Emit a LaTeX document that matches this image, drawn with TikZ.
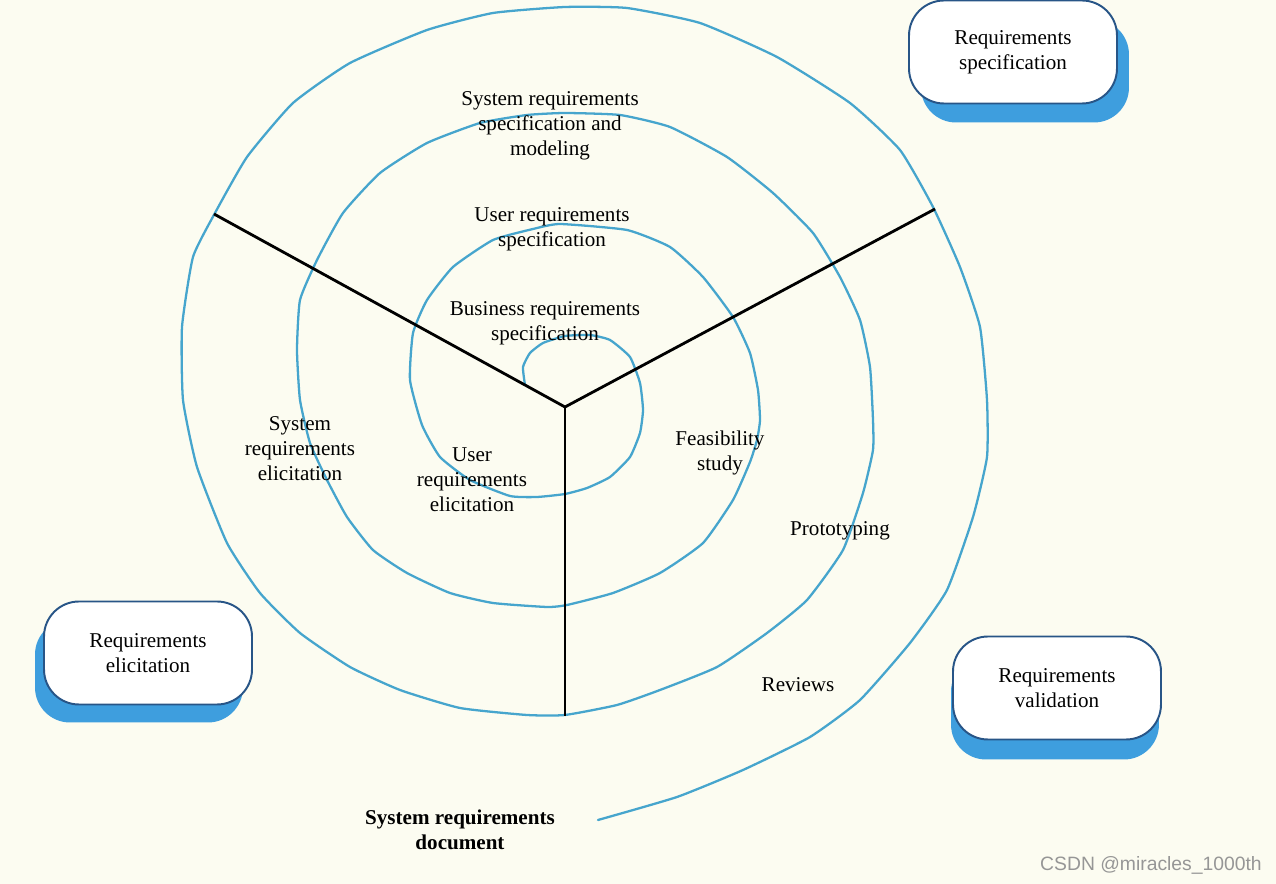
\documentclass[tikz,border=0pt]{standalone}
\usepackage{fontspec}
\setmainfont{Liberation Serif}
\newfontfamily\wmfont{Liberation Sans}
\usepackage{tikz}
\usetikzlibrary{shadows,positioning}
\definecolor{bgcream}{RGB}{252,252,241}
\definecolor{spiralblue}{RGB}{70,165,205}
\definecolor{boxedge}{RGB}{40,85,135}
\definecolor{shadowblue}{RGB}{62,158,222}
\definecolor{wmgray}{RGB}{150,150,150}

\begin{document}
\begin{tikzpicture}[x=0.02cm, y=-0.02cm,
    phasebox/.style={draw=boxedge, line width=1.1pt, fill=white, rounded corners=0.7cm,
      minimum width=4.16cm, minimum height=2.06cm, align=center,
      font=\fontsize{12}{14.2}\selectfont},
    lbl/.style={align=center, inner sep=0pt, font=\fontsize{12}{14.2}\selectfont}]
        % Background
        \fill[bgcream] (0,0) rectangle (1276,884);
        \useasboundingbox (0,0) rectangle (1276,884);

        % Spiral
        \draw[spiralblue, line width=1.3pt, line cap=round] plot[smooth, tension=0.3] coordinates {
          (525,385) (523,367) (530,353) (543,343) (565,336) (590,335) (610,340) (630,357)
          (640,383) (643,410) (640,433) (630,457) (610,477) (587,488) (565,494) (537,497)
          (510,496) (470,480) (440,457) (422,425) (410,380) (413,333) (427,300) (453,267)
          (493,240) (533,229) (560,224) (627,230) (670,247) (703,277) (733,317) (750,353)
          (758,390) (760,420) (757,440) (750,462) (733,500) (703,543) (660,573) (613,593)
          (567,605) (547,607) (493,603) (450,593) (407,573) (373,550) (347,517) (327,480)
          (310,443) (300,400) (297,350) (300,300) (317,260) (343,213) (380,173) (427,143)
          (480,123) (527,115) (565,113) (620,115) (670,127) (727,157) (773,193) (813,233)
          (840,277) (860,320) (870,367) (873,420) (873,450) (863,493) (843,550) (807,600)
          (767,633) (717,667) (660,690) (617,705) (565,715) (527,715) (460,708) (400,690)
          (350,667) (300,633) (260,593) (227,543) (197,467) (183,400) (182,327) (193,257)
          (215,213) (247,157) (293,103) (350,63) (427,30) (493,13) (565,7) (627,8)
          (700,23) (777,57) (850,103) (900,150) (933,207) (960,267) (980,327) (987,400)
          (987,457) (973,517) (947,590) (910,643) (860,700) (810,737) (743,770) (677,797)
          (598,820)};

        % Sector lines
        \coordinate (hub) at (565,407);
        \coordinate (leftEnd) at (214,214);
        \coordinate (rightEnd) at (935,209);
        \coordinate (downEnd) at (565,716);
        \draw[line width=1.6pt] (hub) -- (leftEnd);
        \draw[line width=1.6pt] (hub) -- (rightEnd);
        \draw[line width=0.8pt] (hub) -- (downEnd);

        % Phase boxes
        \node[phasebox, drop shadow={shadow xshift=0.24cm, shadow yshift=-0.38cm, opacity=1, fill=shadowblue}]
          (specbox) at (1013,52) {Requirements\\specification};
        \node[phasebox, drop shadow={shadow xshift=-0.18cm, shadow yshift=-0.36cm, opacity=1, fill=shadowblue}]
          (elicbox) at (148,653) {Requirements\\elicitation};
        \node[phasebox, drop shadow={shadow xshift=-0.04cm, shadow yshift=-0.4cm, opacity=1, fill=shadowblue}]
          (valbox) at (1057,688) {Requirements\\validation};

        % Activity labels
        \node[lbl] (sysspec) at (550,126) {System requirements\\specification and\\modeling};
        \node[lbl] (userspec) at (552,229) {User requirements\\specification};
        \node[lbl] (busspec) at (545,323) {Business requirements\\specification};
        \node[lbl] (syselic) at (300,449) {System\\requirements\\elicitation};
        \node[lbl] (userelic) at (472,480) {User\\requirements\\elicitation};
        \node[lbl] (feas) at (720,453) {Feasibility\\study};
        \node[lbl] (proto) at (840,531) {Prototyping};
        \node[lbl] (reviews) at (798,685) {Reviews};
        \node[lbl, font=\fontsize{12}{14.2}\selectfont\bfseries] (sysdoc) at (460,830) {System requirements\\document};

        % Watermark
        \node[inner sep=0pt, font=\wmfont\fontsize{11}{13}\selectfont, text=wmgray] (mark) at (1151,865) {CSDN @miracles\_1000th};
    \end{tikzpicture}
\end{document}
